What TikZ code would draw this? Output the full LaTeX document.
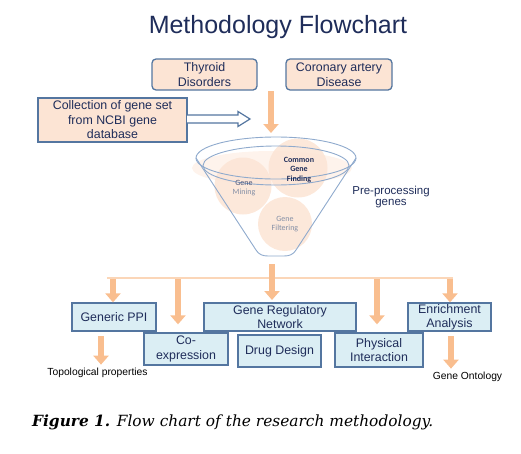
\documentclass[tikz,border=0pt]{standalone}
\usepackage{fontspec}
\setmainfont{Liberation Sans}
\newfontfamily\capfont{DejaVu Serif}
\newfontfamily\calfont{Carlito}
\usetikzlibrary{arrows.meta}
\definecolor{navy}{RGB}{31,45,90}
\definecolor{peach}{RGB}{252,228,212}
\definecolor{edgeblue}{RGB}{84,118,160}
\definecolor{paleblue}{RGB}{219,238,244}
\definecolor{orangearr}{RGB}{249,190,143}
\definecolor{orangeline}{RGB}{251,214,184}
\definecolor{funnelblue}{RGB}{143,170,205}
\definecolor{greytext}{RGB}{130,142,165}

\begin{document}
\begin{tikzpicture}[x=1pt,y=-1pt,
  disease/.style={draw=edgeblue,line width=1.3pt,fill=peach,rounded corners=4pt,align=center,text=navy,inner sep=0pt,font=\fontsize{12.4}{14.5}\selectfont},
  source/.style={draw=edgeblue,line width=1.3pt,fill=peach,align=center,text=navy,inner sep=0pt,font=\fontsize{12.4}{14.5}\selectfont},
  result/.style={draw=edgeblue,line width=1.3pt,fill=paleblue,align=center,text=navy,inner sep=0pt,font=\fontsize{12.4}{14.3}\selectfont},
  oarrow/.style={orangearr,line width=6pt,-{Triangle[width=15pt,length=9pt]}},
  funnel/.style={funnelblue,line width=0.9pt},
  blob/.style={peach,opacity=.85},
  stage/.style={align=center,font=\calfont\fontsize{8}{9.2}\selectfont},
  outcome/.style={font=\fontsize{10.3}{12}\selectfont}
]
\useasboundingbox (0,0) rectangle (521,453);

\node[text=navy,font=\fontsize{25}{30}\selectfont] (title) at (278,27) {Methodology Flowchart};

\node[disease,minimum width=105pt,minimum height=31pt] (thyroid) at (204.5,74.5) {Thyroid\\Disorders};
\node[disease,minimum width=106pt,minimum height=31pt] (cad) at (339,74.5) {Coronary artery\\Disease};
\node[source,minimum width=149pt,minimum height=44pt] (ncbi) at (112.5,120) {Collection of gene set\\from NCBI gene\\database};

\filldraw[draw=edgeblue,fill=white,line width=1.2pt] (187,115) -- (238,115) -- (238,111.5) -- (250,119) -- (238,126.5) -- (238,123) -- (187,123);

\coordinate (in1) at (271,91);
\coordinate (in2) at (271,133);
\draw[oarrow] (in1) -- (in2);

\fill[peach,opacity=.45] (272,168) ellipse (80 and 17);
\fill[blob] (243,186) circle (28.5);
\fill[blob] (298,168) circle (29.5);
\fill[blob] (285,224) circle (27);
\draw[funnel] (196,158) -- (256,250) to[out=-60,in=180] (268,256) -- (284,256) to[out=0,in=-120] (296,250) -- (356,158);
\draw[funnel] (276,158) ellipse (80 and 21);
\draw[funnel] (276,165.5) ellipse (73 and 19.5);

\node[stage] (mining) at (244,188) {\textcolor{navy!80}{Gene}\\\textcolor{greytext}{Mining}};
\node[stage,text=navy,font=\calfont\bfseries\fontsize{8}{9.2}\selectfont] (common) at (299,170) {Common\\Gene\\Finding};
\node[stage,text=greytext] (filtering) at (285,224) {Gene\\Filtering};
\node[text=navy,align=center,font=\fontsize{11.5}{11}\selectfont] (prep) at (391,197) {Pre-processing\\genes};

\coordinate (out1) at (272,264);
\coordinate (out2) at (272,300);
\draw[orangeline,line width=2pt] (107,278) -- (453,278);
\coordinate (b1) at (113,279);
\coordinate (b2) at (178,279);
\coordinate (b4) at (377,279);
\coordinate (b5) at (450,279);

\node[result,minimum width=84pt,minimum height=28pt] (ppi) at (114,317) {Generic PPI};
\node[result,minimum width=152pt,minimum height=28pt] (grn) at (280,317) {Gene Regulatory\\Network};
\node[result,minimum width=83pt,minimum height=28pt] (enrich) at (449.5,317) {Enrichment\\Analysis};
\node[result,minimum width=84pt,minimum height=32pt] (coexp) at (186,349) {Co-\\expression};
\node[result,minimum width=83pt,minimum height=32pt] (drug) at (279.5,351) {Drug Design};
\node[result,minimum width=88pt,minimum height=34pt] (phys) at (379,350) {Physical\\Interaction};

\draw[oarrow] (out1) -- (out2);
\draw[oarrow] (b1) -- (b1 |- ppi.north);
\draw[oarrow,shorten >=8pt] (b2) -- (b2 |- coexp.north);
\draw[oarrow,shorten >=8pt] (b4) -- (b4 |- phys.north);
\draw[oarrow] (b5) -- (b5 |- enrich.north);

\node[outcome] (topo) at (97.5,373) {Topological properties};
\node[outcome] (go) at (467.5,377) {Gene Ontology};
\coordinate (p1) at (101,336);
\coordinate (p2) at (451,336);
\draw[oarrow] (p1) -- (p1 |- topo.north);
\draw[oarrow] (p2) -- (p2 |- go.north);

\node[anchor=west,inner sep=0pt,font=\capfont\itshape\fontsize{15.4}{18}\selectfont] (caption) at (32,422) {\textbf{Figure 1.} Flow chart of the research methodology.};
\end{tikzpicture}
\end{document}
